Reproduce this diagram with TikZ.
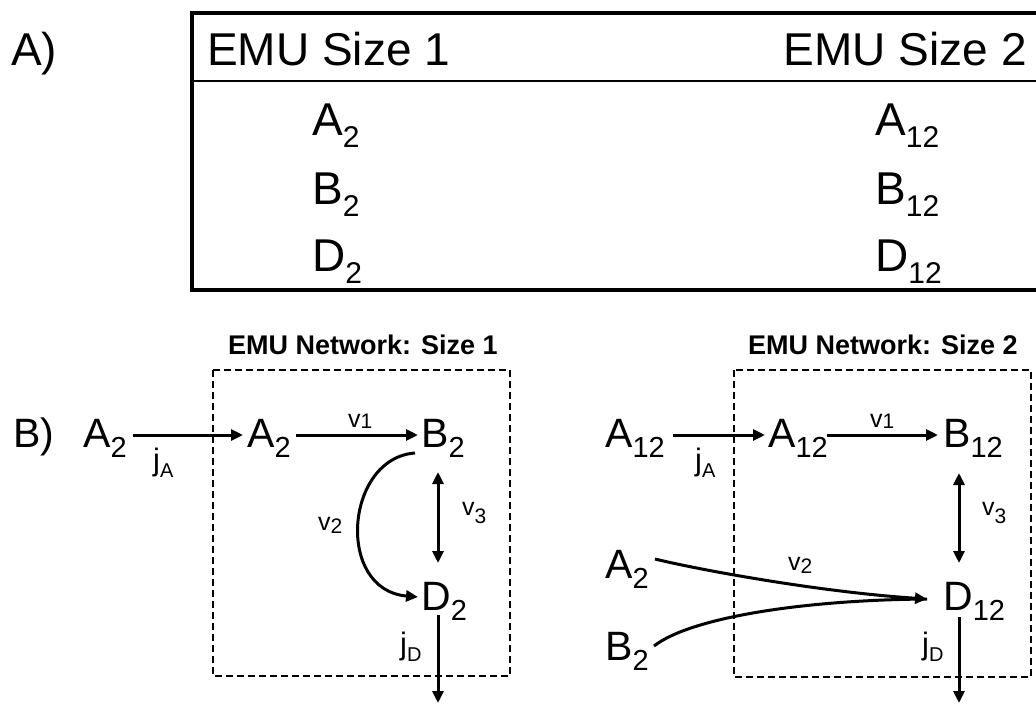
\documentclass[tikz,border=0pt]{standalone}
\usepackage{fontspec}
\setmainfont{Liberation Sans}
\usetikzlibrary{arrows.meta}
\newcommand\tsub[1]{\raisebox{-12pt}{\fontsize{30}{30}\selectfont #1}}
\newcommand\nsub[1]{\raisebox{-10pt}{\fontsize{29}{29}\selectfont #1}}
\newcommand\lsub[2]{\raisebox{-#1pt}{\fontsize{21}{21}\selectfont #2}}
\newcommand\jsub[2]{\raisebox{-#1pt}{\fontsize{20}{20}\selectfont #2}}
\begin{document}
\begin{tikzpicture}[x=1pt,y=-1pt,
  tbl/.style={anchor=base west,inner sep=0pt,font=\fontsize{46}{50}\selectfont},
  emu/.style={anchor=base west,inner sep=0pt,font=\fontsize{41}{45}\selectfont},
  lbl/.style={anchor=base west,inner sep=0pt,font=\fontsize{25}{28}\selectfont},
  jlbl/.style={anchor=base west,inner sep=0pt,font=\fontsize{31}{34}\selectfont},
  ttl/.style={anchor=base west,inner sep=0pt,font=\fontsize{27}{30}\selectfont\bfseries},
  arr/.style={line width=3pt,-{Triangle[length=12pt,width=11pt]}},
  darr/.style={line width=3pt,{Triangle[length=12pt,width=11pt]}-{Triangle[length=12pt,width=11pt]}},
  curv/.style={line width=3pt},
  netbox/.style={line width=2pt,dash pattern=on 7pt off 4pt},
]
\fill[white] (0,0) rectangle (1036,704);
\useasboundingbox (0,0) rectangle (1036,704);

% ---------- A) table ----------
\draw[line width=4pt,line join=miter] (1036,13) -- (192,13) -- (192,290) -- (1036,290);
\draw[line width=2.5pt] (192,81) -- (1036,81);
\node[tbl] (lblA) at (11,65) {A)};
\node[tbl] (h1) at (207,65) {EMU Size 1};
\node[tbl,anchor=base east] (h2) at (1027,65) {EMU Size 2};
\node[tbl] (tA2) at (312,135) {A\tsub{2}};
\node[tbl] (tB2) at (312,204) {B\tsub{2}};
\node[tbl] (tD2) at (312,271) {D\tsub{2}};
\node[tbl] (tA12) at (875,135) {A\tsub{12}};
\node[tbl] (tB12) at (875,204) {B\tsub{12}};
\node[tbl] (tD12) at (875,271) {D\tsub{12}};

% ---------- B) network size 1 ----------
\node[emu] (lblB) at (13,447) {B)};
\node[ttl] (t1) at (228,354) {EMU Network: Size 1};
\draw[netbox] (213,370) rectangle (510,676);
\node[emu] (oA2) at (83,447) {A\nsub{2}};
\node[emu] (iA2) at (247,447) {A\nsub{2}};
\node[emu] (B2) at (421,447) {B\nsub{2}};
\node[emu] (D2) at (421,610) {D\nsub{2}};
\coordinate (out1) at (438,703);

\draw[arr] ([xshift=50pt,yshift=12pt]oA2.base west) -- ([xshift=-4pt,yshift=12pt]iA2.base west);
\draw[arr] ([xshift=49pt,yshift=12pt]iA2.base west) -- ([xshift=-3pt,yshift=12pt]B2.base west);
\draw[darr] ([xshift=17pt,yshift=-25pt]B2.base west) -- ([xshift=17pt,yshift=47pt]D2.base west);
\draw[arr] ([xshift=-6pt,yshift=-6pt]B2.base west) .. controls (345,458) and (335,590) .. ([xshift=-3pt,yshift=13pt]D2.base west);
\draw[arr] ([xshift=17pt,yshift=-5pt]D2.base west) -- (out1);

\node[jlbl] (jA1) at (153,470) {j\jsub{7}{A}};
\node[lbl] (v11) at (348,427) {v\lsub{1}{1}};
\node[lbl] (v21) at (318,530) {v\lsub{3}{2}};
\node[lbl] (v31) at (462,515) {v\lsub{8}{3}};
\node[jlbl] (jD1) at (400,654) {j\jsub{7}{D}};

% ---------- B) network size 2 ----------
\node[ttl] (t2) at (748,354) {EMU Network: Size 2};
\draw[netbox] (734,370) rectangle (1031,677);
\node[emu] (oA12) at (605,447) {A\nsub{12}};
\node[emu] (iA12) at (768,447) {A\nsub{12}};
\node[emu] (B12) at (943,447) {B\nsub{12}};
\node[emu] (D12) at (943,610) {D\nsub{12}};
\node[emu] (lA2) at (605,578) {A\nsub{2}};
\node[emu] (lB2) at (605,660) {B\nsub{2}};
\coordinate (out2) at (959,703);

\draw[arr] ([xshift=68pt,yshift=12pt]oA12.base west) -- ([xshift=-3pt,yshift=12pt]iA12.base west);
\draw[arr] ([xshift=59pt,yshift=12pt]iA12.base west) -- ([xshift=-5pt,yshift=12pt]B12.base west);
\draw[darr] ([xshift=16pt,yshift=-26pt]B12.base west) -- ([xshift=16pt,yshift=47pt]D12.base west);
\draw[curv] ([xshift=49pt,yshift=14pt]lB2.base west) .. controls (690,618) and (800,600) .. ([xshift=-16pt,yshift=11pt]D12.base west);
\draw[arr] ([xshift=50pt,yshift=19pt]lA2.base west) .. controls (700,570) and (820,592) .. ([xshift=-16pt,yshift=11pt]D12.base west);
\draw[arr] ([xshift=16pt,yshift=-7pt]D12.base west) -- (out2);

\node[jlbl] (jA2) at (695,470) {j\jsub{7}{A}};
\node[lbl] (v12) at (870,427) {v\lsub{1}{1}};
\node[lbl] (v22) at (788,570) {v\lsub{3}{2}};
\node[lbl] (v32) at (982,515) {v\lsub{8}{3}};
\node[jlbl] (jD2) at (922,654) {j\jsub{7}{D}};
\end{tikzpicture}
\end{document}
